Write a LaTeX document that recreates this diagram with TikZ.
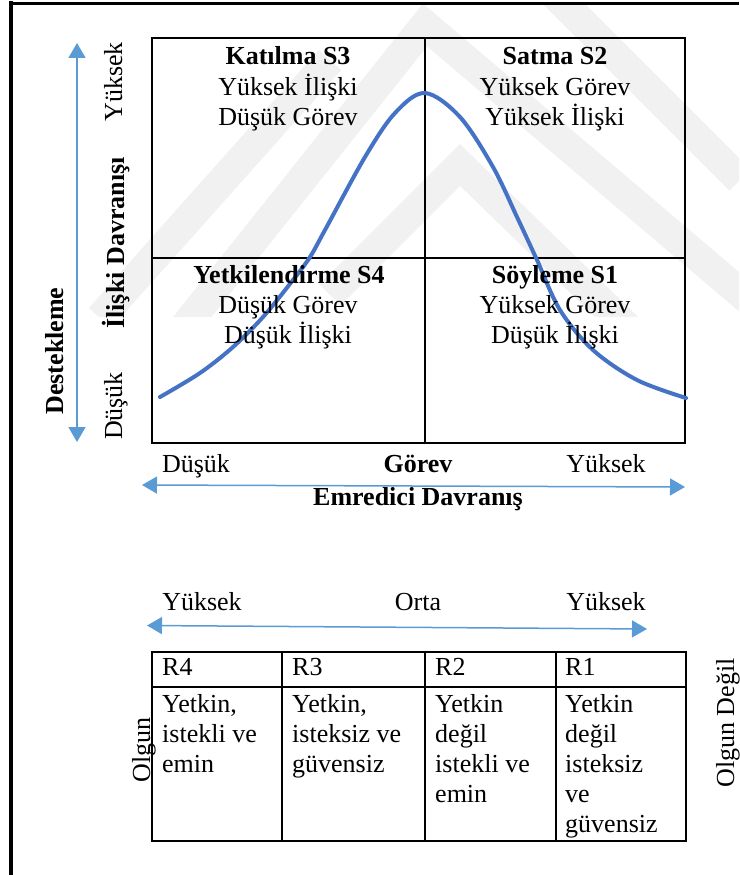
\documentclass[tikz,border=0pt]{standalone}
\usepackage{fontspec}
\setmainfont{Liberation Serif}
\usetikzlibrary{arrows.meta}
\definecolor{curveblue}{RGB}{68,114,196}
\definecolor{axisblue}{RGB}{91,155,213}
\definecolor{wmgray}{RGB}{241,241,241}

\begin{document}
\begin{tikzpicture}[x=1pt,y=-1pt,
  txt/.style={font=\fontsize{26}{30}\selectfont, inner sep=0pt, anchor=base},
  bold/.style={txt, font=\fontsize{26}{30}\selectfont\bfseries},
  vtxt/.style={txt, rotate=90},
  vbold/.style={bold, rotate=90},
  cell/.style={txt, anchor=base west},
  frame/.style={draw=black, line width=2pt},
  axis/.style={draw=axisblue, line width=1.5pt,
    {Triangle[width=17pt,length=15pt]}-{Triangle[width=17pt,length=15pt]}},
  curve/.style={draw=curveblue, line width=4pt, line cap=round},
  band/.style={draw=wmgray, line width=30pt, line join=miter}]

\useasboundingbox (0,0) rectangle (739,875);

% faint chevron watermark behind the upper chart
\begin{scope}
  \clip (14,6) rectangle (739,316);
  \draw[band] (150,370) -- (425,25) -- (770,318);
  \draw[band] (330,295) -- (460,165) -- (630,330);
  \draw[band] (100,318) -- (330,60);
  \draw[band] (540,-20) -- (740,180);
\end{scope}

% page frame: top and left rules
\draw[black, line width=3.5pt] (10.8,3.3) -- (739,3.3);
\draw[black, line width=4.5pt] (10.8,1.5) -- (10.8,875);

% quadrant grid
\draw[frame] (152,38.5) rectangle (685,443);
\draw[frame] (425,38.5) -- (425,443);
\draw[frame] (152,258) -- (685,258);

% situational leadership curve
\draw[curve] plot[smooth, tension=0.55] coordinates {
  (160,397) (200,373) (233,347) (263,317) (293,280) (310,257)
  (325,230) (365,157) (395,113) (425,93) (460,117) (493,167)
  (517,217) (537,260) (560,310) (593,350) (637,380) (686,398)};

% quadrant texts
\node[bold] (s3a) at (288,65) {Katılma S3};
\node[txt]  (s3b) at (288,95) {Yüksek İlişki};
\node[txt]  (s3c) at (288,125) {Düşük Görev};
\node[bold] (s2a) at (555,65) {Satma S2};
\node[txt]  (s2b) at (555,95) {Yüksek Görev};
\node[txt]  (s2c) at (555,125) {Yüksek İlişki};
\node[bold] (s4a) at (289,283) {Yetkilendirme S4};
\node[txt]  (s4b) at (288,313) {Düşük Görev};
\node[txt]  (s4c) at (288,343) {Düşük İlişki};
\node[bold] (s1a) at (555,283) {Söyleme S1};
\node[txt]  (s1b) at (555,313) {Yüksek Görev};
\node[txt]  (s1c) at (555,343) {Düşük İlişki};

% vertical axis
\coordinate (vtop) at (77,43);
\coordinate (vbot) at (77,442);
\draw[axis] (vbot) -- (vtop);
\node[vtxt]  (vhigh) at (122,82) {Yüksek};
\node[vbold] (vname) at (124,243) {İlişki Davranışı};
\node[vtxt]  (vlow)  at (122,406) {Düşük};
\node[vbold] (vside) at (63,351) {Destekleme};

% horizontal axis
\node[txt]  (hlow)  at (196,472) {Düşük};
\node[bold] (hname) at (418,472) {Görev};
\node[txt]  (hhigh) at (606,472) {Yüksek};
\coordinate (hleft) at (142,485);
\coordinate (hright) at (685,487);
\draw[axis] (hleft) -- (hright);
\node[bold] (hside) at (418,505) {Emredici Davranış};

% readiness scale
\node[txt] (rleft)  at (202,610) {Yüksek};
\node[txt] (rmid)   at (418,610) {Orta};
\node[txt] (rright) at (606,610) {Yüksek};
\coordinate (rl) at (147,625.5);
\coordinate (rr) at (647,629);
\draw[axis] (rl) -- (rr);

% readiness table
\draw[frame] (152,652) rectangle (686,841);
\draw[frame] (152,687) -- (686,687);
\foreach \xx in {282,425,556} \draw[frame] (\xx,652) -- (\xx,841);

\node[cell] (r4) at (162,675) {R4};
\node[cell] (r3) at (292,675) {R3};
\node[cell] (r2) at (435,675) {R2};
\node[cell] (r1) at (565,675) {R1};

\foreach \t [count=\i] in {{Yetkin,}, istekli ve, emin}
  \node[cell] (ca\i) at (162,682+30*\i) {\t};
\foreach \t [count=\i] in {{Yetkin,}, isteksiz ve, güvensiz}
  \node[cell] (cb\i) at (292,682+30*\i) {\t};
\foreach \t [count=\i] in {Yetkin, değil, istekli ve, emin}
  \node[cell] (cc\i) at (435,682+30*\i) {\t};
\foreach \t [count=\i] in {Yetkin, değil, isteksiz, ve, güvensiz}
  \node[cell] (cd\i) at (565,682+30*\i) {\t};

\node[vtxt] (olgun)  at (150,750) {Olgun};
\node[vtxt] (olgund) at (734,723) {Olgun Değil};

\end{tikzpicture}
\end{document}
